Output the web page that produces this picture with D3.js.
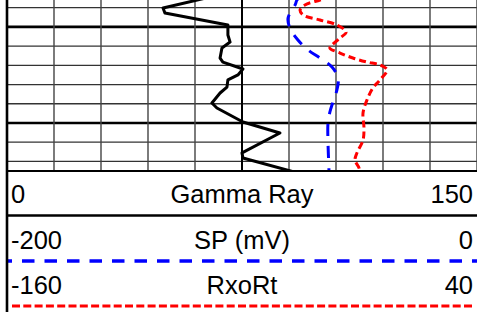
<!DOCTYPE html>
<html>
<head>
<meta charset="utf-8">
<script src="https://cdn.jsdelivr.net/npm/d3@7"></script>
<style>
    html, body { margin: 0; padding: 0; background: #fff; }
    svg { display: block; }
    text { font-family: Arial, "Liberation Sans", sans-serif; fill: #000; }
</style>
</head>
<body>
<div id="contents"></div>
<script>
// depth in ft, curve values
var grDepth  = [984, 990.2, 992.8, 999, 1004.2, 1007.9, 1011, 1016.2, 1018.3, 1021.9, 1025, 1027.6,
                1031.3, 1034.4, 1039.6, 1042.2, 1049.5, 1055.2, 1065.6, 1068.2, 1077];
var grValues = [66, 49.8, 50.4, 70.5, 70.5, 71.2, 68.6, 68.0, 68.9, 75.3, 73.7, 70.5,
                70.2, 68.0, 65.4, 67.0, 75.3, 87.1, 75.0, 75.3, 95];

var spDepth  = [984, 986, 988.6, 995.4, 1000.6, 1006.8, 1012, 1016.2, 1020.9, 1026.6, 1032.8,
                1039.1, 1044.3, 1050, 1060.4, 1074.5, 1077];
var spValues = [-75, -76.6, -77.4, -80.4, -79.6, -76.2, -71.9, -66.8, -61.7, -59.1, -59.6,
                -61.3, -62.6, -63.4, -63.4, -63.0, -63.0];

var rxoDepth  = [984, 986, 988.6, 991.2, 993.8, 996.4, 999, 1002.7, 1005.8, 1009.4, 1011, 1013.6,
                 1016.2, 1018.3, 1019.8, 1022.4, 1027.6, 1031.8, 1038, 1044.8, 1052.6, 1058.9,
                 1065.6, 1069.3, 1073.4, 1077];
var rxoValues = [-22, -26.8, -33.2, -35.3, -34.0, -26.8, -19.6, -15.7, -18.3, -21.7, -22.6, -18.3,
                 -12.8, -6.8, -1.3, 1.7, -1.3, -4.3, -6.8, -8.5, -8.1, -8.5,
                 -11.1, -11.9, -10.2, -9.5];

var depthRange = [986, 1075];
var grRange    = [0, 150];
var spRange    = [-200, 0];
var rxoRange   = [-160, 40];

var headerRows = [
    {name: 'Gamma Ray', min: '0',    max: '150'},
    {name: 'SP (mV)',   min: '-200', max: '0'},
    {name: 'RxoRt',     min: '-160', max: '40'}
];

window.onload = function(){
    'use strict';
    var WIDTH    = 477;
    var HEIGHT   = 312;
    var LEFT     = 7;
    var RIGHT    = 477;
    var TRACK_H  = 171;
    var FONT     = 25.5;

    var svg = d3.select('#contents')
        .append('svg')
        .attr('width', WIDTH)
        .attr('height', HEIGHT);

    var y    = d3.scaleLinear().domain(depthRange).range([0, TRACK_H]);
    var xGr  = d3.scaleLinear().domain(grRange).range([LEFT, RIGHT]);
    var xSp  = d3.scaleLinear().domain(spRange).range([LEFT, RIGHT]);
    var xRxo = d3.scaleLinear().domain(rxoRange).range([LEFT, RIGHT]);

    svg.append('defs')
        .append('clipPath')
        .attr('id', 'track-clip')
        .append('rect')
        .attr('x', LEFT)
        .attr('y', 0)
        .attr('width', RIGHT - LEFT)
        .attr('height', TRACK_H);

    var track = svg.append('g').attr('clip-path', 'url(#track-clip)');

    // depth grid, major every 50 ft
    var depthTicks = d3.range(990, 1075, 10);
    track.append('g')
        .selectAll('line')
        .data(depthTicks)
        .enter()
        .append('line')
        .attr('x1', LEFT)
        .attr('x2', RIGHT)
        .attr('y1', function(d){ return y(d); })
        .attr('y2', function(d){ return y(d); })
        .attr('stroke', function(d){ return d % 50 === 0 ? '#000' : '#333'; })
        .attr('stroke-width', function(d){ return d % 50 === 0 ? 2.6 : 1.3; });

    // vertical grid from the gamma ray scale
    var grTicks = d3.range(15, 151, 15);
    track.append('g')
        .selectAll('line')
        .data(grTicks)
        .enter()
        .append('line')
        .attr('x1', function(d){ return xGr(d); })
        .attr('x2', function(d){ return xGr(d); })
        .attr('y1', 0)
        .attr('y2', TRACK_H)
        .attr('stroke', function(d){ return d === 75 ? '#000' : '#444'; })
        .attr('stroke-width', function(d){ return d === 75 ? 2 : 1.4; });

    function curve(depths, values, x, color, dash, width, shape) {
        var pts = depths.map(function(d, i){ return [values[i], d]; });
        var line = d3.line()
            .x(function(p){ return x(p[0]); })
            .y(function(p){ return y(p[1]); })
            .curve(shape);
        track.append('path')
            .datum(pts)
            .attr('d', line)
            .attr('fill', 'none')
            .attr('stroke', color)
            .attr('stroke-width', width)
            .attr('stroke-linejoin', 'round')
            .attr('stroke-dasharray', dash);
    }

    curve(grDepth, grValues, xGr, '#000', null, 3, d3.curveLinear);
    curve(spDepth, spValues, xSp, '#0000ff', '12,10', 3, d3.curveCatmullRom);
    curve(rxoDepth, rxoValues, xRxo, '#ff0000', '7,4', 3, d3.curveCatmullRom);

    // header
    var header = svg.append('g');
    header.append('line')
        .attr('x1', LEFT).attr('x2', RIGHT)
        .attr('y1', TRACK_H).attr('y2', TRACK_H)
        .attr('stroke', '#000').attr('stroke-width', 2);
    header.append('line')
        .attr('x1', LEFT).attr('x2', RIGHT)
        .attr('y1', 215.5).attr('y2', 215.5)
        .attr('stroke', '#000').attr('stroke-width', 2.5);

    var baselines = [203, 249, 294];
    header.selectAll('.row')
        .data(headerRows)
        .enter()
        .append('g')
        .each(function(d, i){
            var g = d3.select(this);
            g.append('text')
                .attr('x', 11).attr('y', baselines[i])
                .attr('font-size', FONT)
                .text(d.min);
            g.append('text')
                .attr('x', (LEFT + RIGHT) / 2).attr('y', baselines[i])
                .attr('font-size', FONT)
                .attr('text-anchor', 'middle')
                .text(d.name);
            g.append('text')
                .attr('x', 473).attr('y', baselines[i])
                .attr('font-size', FONT)
                .attr('text-anchor', 'end')
                .text(d.max);
        });

    // legend line styles
    header.append('line')
        .attr('x1', LEFT).attr('x2', RIGHT)
        .attr('y1', 261).attr('y2', 261)
        .attr('stroke', '#0000ff').attr('stroke-width', 3.5)
        .attr('stroke-dasharray', '12.5,10')
        .attr('stroke-dashoffset', 7.5);
    header.append('line')
        .attr('x1', 12).attr('x2', 474)
        .attr('y1', 306).attr('y2', 306)
        .attr('stroke', '#ff0000').attr('stroke-width', 3)
        .attr('stroke-dasharray', '8,3.3');

    // left border of the track
    svg.append('line')
        .attr('x1', LEFT).attr('x2', LEFT)
        .attr('y1', 0).attr('y2', HEIGHT)
        .attr('stroke', '#000').attr('stroke-width', 2.6);
};
</script>
</body>
</html>
